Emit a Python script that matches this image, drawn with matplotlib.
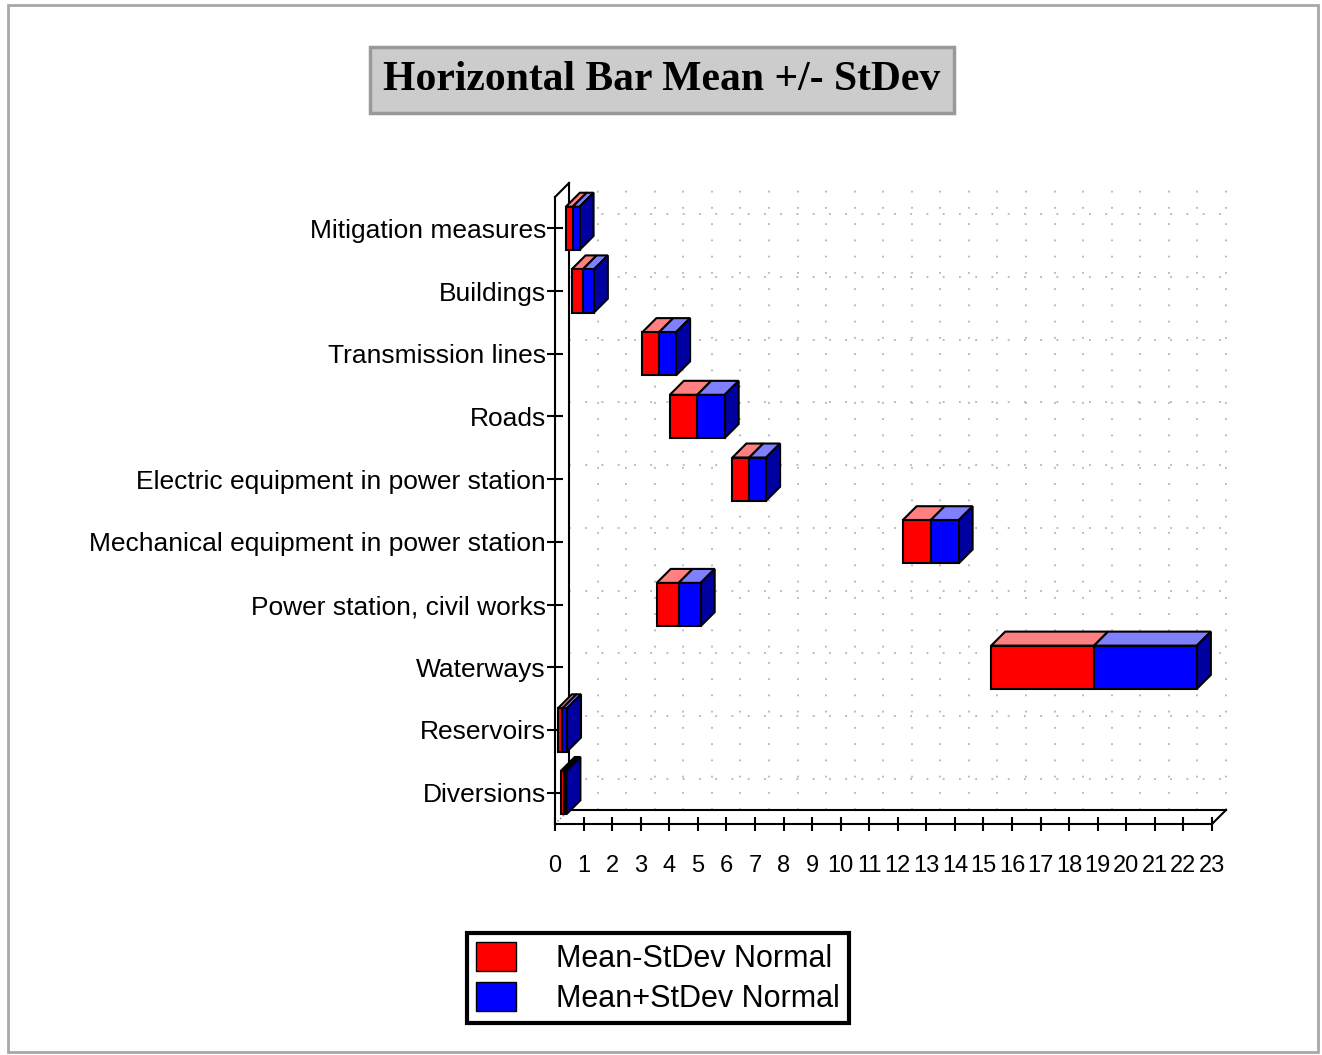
import matplotlib
matplotlib.use('Agg')
import numpy as np
import matplotlib.pyplot as plt
from matplotlib.patches import Polygon, Rectangle, Patch

plt.rcParams['font.family'] = ['Liberation Sans', 'DejaVu Sans']

# data (top to bottom)
categories = ['Mitigation measures', 'Buildings', 'Transmission lines', 'Roads',
              'Electric equipment in power station',
              'Mechanical equipment in power station',
              'Power station, civil works', 'Waterways', 'Reservoirs', 'Diversions']
means = [0.62, 0.97, 3.65, 4.98, 6.8, 13.15, 4.33, 18.87, 0.26, 0.3]
stdevs = [0.24, 0.39, 0.59, 0.96, 0.59, 0.98, 0.77, 3.6, 0.16, 0.1]
labels = ['Mean-StDev Normal', 'Mean+StDev Normal']
xticks = list(range(0, 24))

W, H = 1322, 1055
fig = plt.figure(figsize=(W / 100, H / 100), dpi=100)
ax = fig.add_axes([555 / W, (H - 824) / H, (1212 - 555) / W, (824 - 197) / H])

n = len(categories)
ypos = np.arange(n)
means = np.array(means)
stdevs = np.array(stdevs)
lows = means - stdevs
highs = means + stdevs

ax.set_xlim(0, 23)
ax.set_ylim(n - 0.5, -0.5)

# depth of the fake 3d, 14 px, turned into data units
dx = 14 / ((1212 - 555) / 23)
dy = 14 / ((824 - 197) / n)
bh = 0.69

red, blue = '#ff0000', '#0000ff'
red_top, blue_top, blue_side = '#ff8080', '#8080ff', '#0000a0'

# back wall + dotted grid
grid_kw = dict(color='#b4b4b4', lw=1.3, linestyle=(0, (1, 8)), clip_on=False, zorder=1)
for k in xticks[1:]:
    ax.plot([k + dx, k + dx], [n - 0.5 - dy, -0.5 - dy], **grid_kw)
for y in ypos:
    ax.plot([dx, 23 + dx], [y - dy, y - dy], **grid_kw)
wall_kw = dict(color='black', lw=1.5, clip_on=False, zorder=2)
ax.plot([dx, dx], [n - 0.5 - dy, -0.5 - dy], **wall_kw)
ax.plot([dx, 23 + dx], [n - 0.5 - dy, n - 0.5 - dy], **wall_kw)
ax.plot([0, dx], [-0.5, -0.5 - dy], **wall_kw)
ax.plot([23, 23 + dx], [n - 0.5, n - 0.5 - dy], **wall_kw)
ax.plot([0, dx], [n - 0.5, n - 0.5 - dy], color='gray', lw=1, linestyle=':', clip_on=False, zorder=2)

# front faces
ax.barh(ypos, means - lows, left=lows, height=bh, color=red, edgecolor='black', lw=1.5, zorder=5)
ax.barh(ypos, highs - means, left=means, height=bh, color=blue, edgecolor='black', lw=1.5, zorder=5)

# top and side faces
for y, lo, m, hi in zip(ypos, lows, means, highs):
    top = y - bh / 2
    bot = y + bh / 2
    for a, b, c in [(lo, m, red_top), (m, hi, blue_top)]:
        ax.add_patch(Polygon([(a, top), (b, top), (b + dx, top - dy), (a + dx, top - dy)],
                             closed=True, facecolor=c, edgecolor='black', lw=1.5,
                             clip_on=False, zorder=4))
    ax.add_patch(Polygon([(hi, top), (hi, bot), (hi + dx, bot - dy), (hi + dx, top - dy)],
                         closed=True, facecolor=blue_side, edgecolor='black', lw=1.5,
                         clip_on=False, zorder=4))

# axes
for s in ['top', 'right']:
    ax.spines[s].set_visible(False)
for s in ['left', 'bottom']:
    ax.spines[s].set_linewidth(1.5)
ax.set_yticks(ypos)
ax.set_yticklabels(categories, fontsize=19)
ax.set_xticks(xticks)
ax.set_xticklabels([str(t) for t in xticks], fontsize=17)
ax.tick_params(axis='y', direction='inout', length=11, width=1.5, pad=1)
ax.tick_params(axis='x', direction='inout', length=10, width=1.5, pad=17)
ax.patch.set_alpha(0)

# title
fig.text(662 / W, 1 - 80 / H, 'Horizontal Bar Mean +/- StDev', ha='center', va='center',
         fontsize=30, family='Liberation Serif', weight='bold',
         bbox=dict(boxstyle='square,pad=0.33', facecolor='#cccccc', edgecolor='#999999', lw=2.5))

# legend
handles = [Patch(facecolor=red, edgecolor='black'), Patch(facecolor=blue, edgecolor='black')]
leg = fig.legend(handles, labels, loc='center', bbox_to_anchor=(658 / W, 1 - 978 / H),
                 fontsize=22, handlelength=1.3, handleheight=1.1, handletextpad=1.3,
                 labelspacing=0.25, borderpad=0.3, fancybox=False, framealpha=1)
leg.get_frame().set_edgecolor('black')
leg.get_frame().set_linewidth(3)

# outer frame
fig.add_artist(Rectangle((8 / W, 3 / H), (1318 - 8) / W, (1050 - 3) / H,
                         transform=fig.transFigure, fill=False, edgecolor='#a8a8a8', lw=2))

fig.savefig('out.png', dpi=100)
